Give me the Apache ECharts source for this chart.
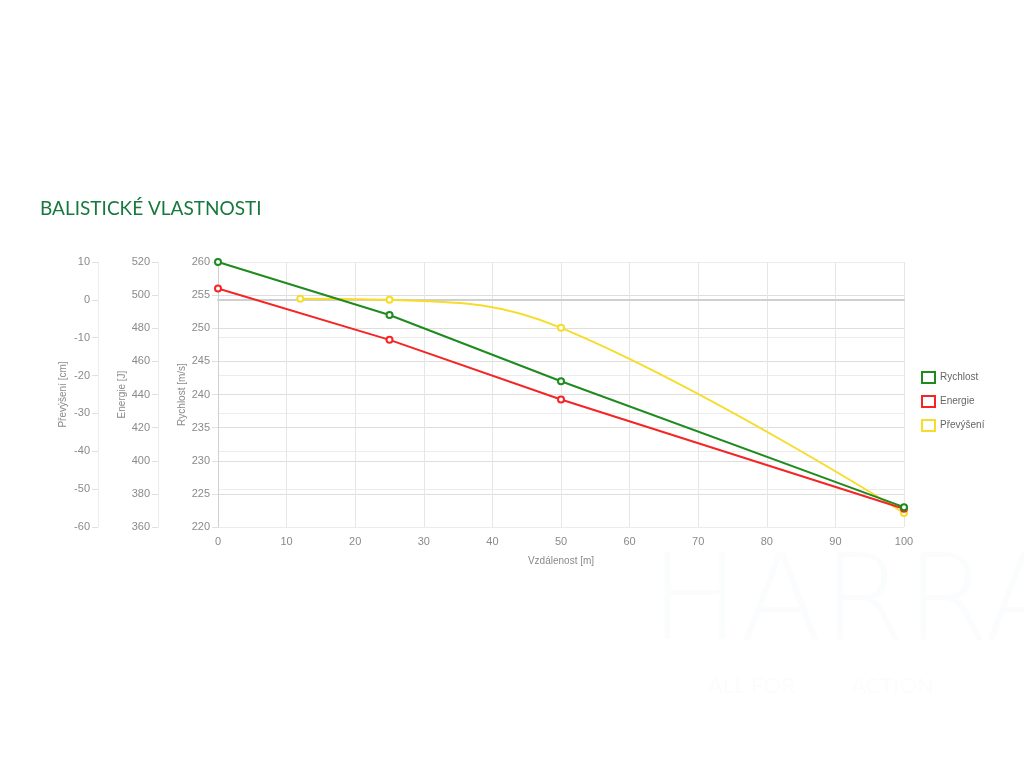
<!DOCTYPE html>
<html><head><meta charset="utf-8">
<script src="https://cdn.jsdelivr.net/npm/echarts@6/dist/echarts.min.js"></script>
<style>html,body{margin:0;padding:0;background:#fff}#c{width:1024px;height:768px}</style>
</head><body><div id="c"></div>
<script>
const distances = [0, 25, 50, 100];
const rychlost = [260, 252, 242, 223];
const energie = [504, 473, 437, 371];
const prevyseniX = [12, 25, 50, 100];
const prevyseni = [0.3, 0, -7.4, -56.3];
const seriesNames = ['Rychlost', 'Energie', 'Převýšení'];
const colors = ['#1f8b1f', '#f52525', '#f7dc2a'];

const zip = (xs, ys) => xs.map((x, i) => [x, ys[i]]);
const axisLabel = { color: '#8a8a8a', fontSize: 11, fontFamily: 'Liberation Sans' };
const nameStyle = { color: '#8a8a8a', fontSize: 10, fontFamily: 'Liberation Sans' };

const chart = echarts.init(document.getElementById('c'));
chart.setOption({
  animation: false,
  backgroundColor: '#fff',
  title: {
    text: 'BALISTICKÉ VLASTNOSTI', left: 35, top: 194,
    textStyle: { color: '#17793d', fontSize: 19, fontWeight: 'normal', fontFamily: 'Lato' }
  },
  graphic: [
    { type: 'text', left: 650, top: 548, silent: true, z: -10,
      style: { text: 'HARRANT', fontSize: 120, fontFamily: 'DejaVu Sans', fontWeight: 200, fill: '#fbfcfd', letterSpacing: 2 } },
    { type: 'text', left: 708, top: 675, silent: true, z: -10,
      style: { text: 'ALL FOR          ACTION', fontSize: 22, fontFamily: 'Lato', fill: '#fbfcfd' } }
  ],
  legend: {
    orient: 'vertical', left: 916, top: 366, itemWidth: 13, itemHeight: 11, itemGap: 11,
    icon: 'rect',
    textStyle: { color: '#666', fontSize: 10, fontFamily: 'Liberation Sans' },
    data: seriesNames.map((n, i) => ({ name: n, itemStyle: { color: '#fff', borderColor: colors[i], borderWidth: 2 } }))
  },
  grid: { left: 218, right: 120, top: 262, bottom: 241 },
  xAxis: {
    type: 'value', min: 0, max: 100, interval: 10,
    name: 'Vzdálenost [m]', nameLocation: 'middle', nameGap: 29, nameTextStyle: nameStyle,
    axisLine: { lineStyle: { color: '#cfcfcf', width: 2 } },
    axisTick: { show: false }, axisLabel: Object.assign({ margin: 9 }, axisLabel),
    splitLine: { lineStyle: { color: '#e6e6e6' } }
  },
  yAxis: [
    { type: 'value', min: 220, max: 260, interval: 5, position: 'left', offset: 0,
      name: 'Rychlost [m/s]', nameLocation: 'middle', nameGap: 31, nameMoveOverlap: false, nameTextStyle: nameStyle,
      axisLine: { show: true, lineStyle: { color: '#cfcfcf', width: 1 } },
      axisTick: { show: true, length: 6, lineStyle: { color: '#e0e0e0' } },
      axisLabel: Object.assign({ margin: 8 }, axisLabel),
      splitLine: { show: true, lineStyle: { color: '#dedede' } } },
    { type: 'value', min: 360, max: 520, interval: 20, position: 'left', offset: 60,
      name: 'Energie [J]', nameLocation: 'middle', nameGap: 31, nameMoveOverlap: false, nameTextStyle: nameStyle,
      axisLine: { show: true, lineStyle: { color: '#ececec' } },
      axisTick: { show: true, length: 6, lineStyle: { color: '#e0e0e0' } },
      axisLabel: Object.assign({ margin: 8 }, axisLabel),
      splitLine: { show: false } },
    { type: 'value', min: -60, max: 10, interval: 10, position: 'left', offset: 120,
      name: 'Převýšení [cm]', nameLocation: 'middle', nameGap: 30, nameMoveOverlap: false, nameTextStyle: nameStyle,
      axisLine: { show: true, lineStyle: { color: '#ececec' } },
      axisTick: { show: true, length: 6, lineStyle: { color: '#e0e0e0' } },
      axisLabel: Object.assign({ margin: 8 }, axisLabel),
      splitLine: { show: true, lineStyle: { color: ['#ececec','#ececec','#ececec','#ececec','#ececec','#ececec','#bdbdbd','#ececec'] } } }
  ],
  series: [
    { name: seriesNames[0], type: 'line', yAxisIndex: 0, data: zip(distances, rychlost),
      symbol: 'emptyCircle', symbolSize: 6, color: colors[0], lineStyle: { width: 2 }, itemStyle: { borderWidth: 2 }, z: 5 },
    { name: seriesNames[1], type: 'line', yAxisIndex: 1, data: zip(distances, energie),
      symbol: 'emptyCircle', symbolSize: 6, color: colors[1], lineStyle: { width: 2 }, itemStyle: { borderWidth: 2 }, z: 4 },
    { name: seriesNames[2], type: 'line', yAxisIndex: 2, data: zip(prevyseniX, prevyseni), smooth: 0.4,
      symbol: 'emptyCircle', symbolSize: 6, color: colors[2], lineStyle: { width: 2 }, itemStyle: { borderWidth: 2 }, z: 3 }
  ]
});
</script></body></html>
